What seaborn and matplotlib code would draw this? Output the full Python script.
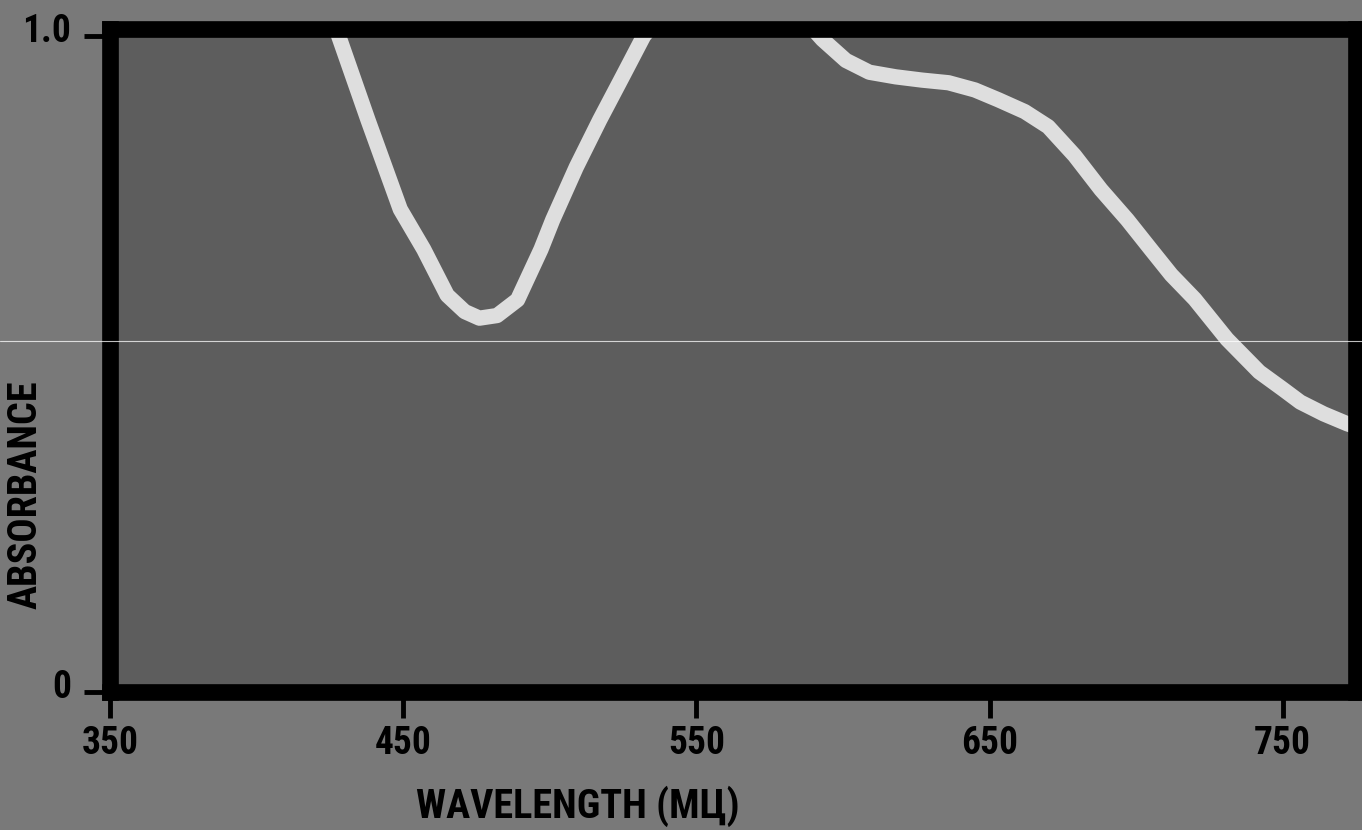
import matplotlib
matplotlib.use("Agg")
import matplotlib.pyplot as plt
from matplotlib.lines import Line2D
from matplotlib.transforms import ScaledTranslation
import seaborn as sns

# spectrum (absorbance above 1.0 runs off the top of the chart)
wavelength = [420, 428, 438, 449, 457, 465, 471, 476, 482, 489, 497, 501, 509, 517,
              525, 532, 540, 550, 560, 570, 580, 588, 593, 601, 609, 618, 627, 636,
              645, 653, 662, 670, 679, 688, 697, 705, 712, 720, 731, 742, 750, 756,
              764, 772, 778]
absorbance = [1.10, 1.00, 0.872, 0.736, 0.675, 0.605, 0.580, 0.570, 0.574, 0.598, 0.675,
              0.720, 0.800, 0.872, 0.940, 1.000, 1.045, 1.080, 1.095, 1.090, 1.060,
              1.020, 0.995, 0.963, 0.945, 0.938, 0.933, 0.929, 0.918, 0.903, 0.885,
              0.862, 0.818, 0.766, 0.720, 0.675, 0.636, 0.599, 0.538, 0.488, 0.462,
              0.442, 0.424, 0.409, 0.400]

x_ticks = [350, 450, 550, 650, 750]
y_ticks = [0, 1.0]
y_tick_labels = ["0", "1.0"]

sns.set_style("ticks")
plt.rcParams["font.family"] = ["Roboto Condensed", "Liberation Sans Narrow",
                               "Liberation Sans", "DejaVu Sans"]
plt.rcParams["font.weight"] = "bold"

fig = plt.figure(figsize=(13.62, 8.30), dpi=100)
fig.patch.set_facecolor("#797979")
ax = fig.add_axes([0.0808, 0.1663, 0.9148, 0.7988])
ax.set_facecolor("#5d5d5d")

sns.lineplot(x=wavelength, y=absorbance, ax=ax, sort=False, color="#dedede",
             linewidth=11, solid_capstyle="butt", solid_joinstyle="round")

ax.set_xlim(350, 775)
ax.set_ylim(0, 1.011)
ax.set_xticks(x_ticks)
ax.set_yticks(y_ticks, y_tick_labels)

for side in ["left", "right", "top", "bottom"]:
    ax.spines[side].set_visible(True)
    ax.spines[side].set_color("black")
    ax.spines[side].set_linewidth(12)

ax.tick_params(axis="both", direction="out", length=19, width=3.5, color="black",
               labelsize=27, labelcolor="black")
ax.tick_params(axis="x", pad=5)
ax.tick_params(axis="y", pad=9)

# y tick labels sit a little above their ticks
for lab in ax.get_yticklabels():
    lab.set_transform(lab.get_transform() + ScaledTranslation(0, 6 / 72, fig.dpi_scale_trans))

ax.set_ylabel("ABSORBANCE", fontsize=29, fontweight="bold", color="black", va="center")
ax.yaxis.set_label_coords(-0.068, 0.297)
ax.set_xlabel("WAVELENGTH (MЦ)", fontsize=29, fontweight="bold", color="black", va="top")
ax.xaxis.set_label_coords(0.3756, -0.141)

# thin scan line across the whole print
fig.add_artist(Line2D([0, 1], [0.589, 0.589], transform=fig.transFigure,
                      color="white", linewidth=0.8, alpha=0.75))

fig.savefig("out.png", dpi=100, facecolor=fig.get_facecolor())
